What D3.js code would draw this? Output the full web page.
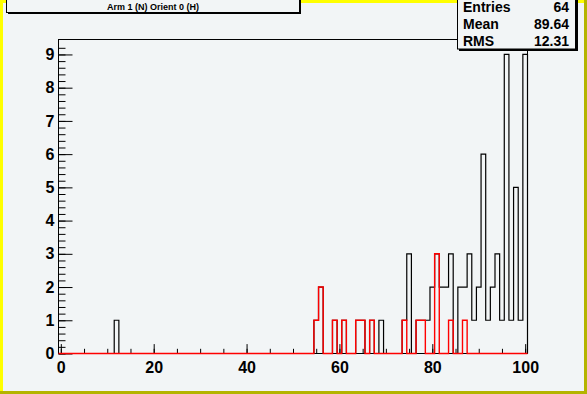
<!DOCTYPE html>
<html>
<head>
<meta charset="utf-8">
<script src="https://cdn.jsdelivr.net/npm/d3@7"></script>
<style>
  body { margin: 0; background: #f2f5f6; }
  svg text { font-family: "Liberation Sans", Arial, sans-serif; font-weight: bold; }
</style>
</head>
<body>
<svg id="chart"></svg>
<script>
// histogram contents, one bin per integer, range -0.5 .. 100.5
const blackBins   = [12, 55, 56, 59, 61, 64, 65, 67, 69, 74, 75, 77, 78, 79, 80, 81, 82, 83, 84, 86, 87, 88, 89, 90, 91, 92, 93, 94, 95, 96, 97, 98, 99, 100]
const blackCounts = [ 1,  1,  2,  1,  1,  1,  1,  1,  1,  1,  3,  1,  1,  1,  2,  3,  2,  2,  3,  2,  2,  3,  1,  2,  6,  1,  2,  3,  1,  9,  1,  5,  1,  9]
const redBins     = [55, 56, 59, 61, 64, 65, 67, 74, 77, 78, 81, 84, 87]
const redCounts   = [ 1,  2,  1,  1,  1,  1,  1,  1,  1,  1,  3,  1,  1]

const xMajor = [0, 20, 40, 60, 80, 100]
const yMajor = [0, 1, 2, 3, 4, 5, 6, 7, 8, 9]
const titleText = "Arm 1 (N) Orient 0 (H)"
const statLabels = ["Entries", "Mean", "RMS"]
const statValues = ["64", "89.64", "12.31"]

const W = 587, H = 394
const nBins = 101

function fill(bins, counts){
    const arr = new Array(nBins).fill(0)
    bins.forEach((b, i) => { arr[b] = counts[i] })
    return arr
}
const black = fill(blackBins, blackCounts)
const red = fill(redBins, redCounts)

const svg = d3.select("svg#chart")
              .attr("width", W)
              .attr("height", H)

//canvas background + border
svg.append("rect")
   .attr("x", 0).attr("y", 0)
   .attr("width", W).attr("height", H)
   .attr("fill", "#f2f5f6")
svg.append("path")
   .attr("d", `M0,0H${W}V3H3V${H}H0Z`)
   .attr("fill", "#ffff00")
svg.append("path")
   .attr("d", `M${W},0V${H}H0V${H-3}H${W-3}V0Z`)
   .attr("fill", "#b4b400")

//frame
const fLeft = 58.5, fRight = 527.5, fTop = 39.5, fBottom = 353.5

const x = d3.scaleLinear().domain([-0.5, 100.5]).range([fLeft, fRight])
const y = d3.scaleLinear().domain([0, 9.45]).range([fBottom, fTop])

svg.append("rect")
   .attr("x", fLeft).attr("y", fTop)
   .attr("width", fRight - fLeft).attr("height", fBottom - fTop)
   .attr("fill", "none")
   .attr("stroke", "black")
   .attr("stroke-width", 1)

//axes, ticks pointing into the frame
const xMinor = d3.range(0, 101, 5)
svg.append("g")
   .attr("transform", `translate(0,${fBottom})`)
   .call(d3.axisBottom(x).tickValues(xMinor).tickSize(-4.7).tickFormat(""))
   .call(g => g.select(".domain").remove())
svg.append("g")
   .attr("transform", `translate(0,${fBottom})`)
   .call(d3.axisBottom(x).tickValues(xMajor).tickSize(-9.4).tickPadding(8).tickFormat(d3.format("d")))
   .call(g => g.select(".domain").remove())
   .call(g => g.selectAll("text").attr("font-size", 16).attr("fill", "black")
              .attr("font-family", "Liberation Sans, Arial, sans-serif"))

const yMinor = d3.range(0, 47).map(i => i * 0.2)
svg.append("g")
   .attr("transform", `translate(${fLeft},0)`)
   .call(d3.axisLeft(y).tickValues(yMinor).tickSize(-7).tickFormat(""))
   .call(g => g.select(".domain").remove())
svg.append("g")
   .attr("transform", `translate(${fLeft},0)`)
   .call(d3.axisLeft(y).tickValues(yMajor).tickSize(-14).tickPadding(4).tickFormat(d3.format("d")))
   .call(g => g.select(".domain").remove())
   .call(g => g.selectAll("text").attr("font-size", 16).attr("fill", "black")
              .attr("font-family", "Liberation Sans, Arial, sans-serif"))

//histogram outline
function stepPoints(vals){
    const pts = [[x(-0.5), y(0)]]
    vals.forEach((v, i) => {
        pts.push([x(i - 0.5), y(v)])
        pts.push([x(i + 0.5), y(v)])
    })
    pts.push([x(100.5), y(0)])
    return pts
}
const line = d3.line()

svg.append("path")
   .attr("d", line(stepPoints(black)))
   .attr("fill", "none")
   .attr("stroke", "black")
   .attr("stroke-width", 1.2)

svg.append("path")
   .attr("d", line(stepPoints(red)))
   .attr("fill", "none")
   .attr("stroke", "#ff0000")
   .attr("stroke-width", 1.4)

//title box
svg.append("rect")
   .attr("x", 8).attr("y", -10)
   .attr("width", 293).attr("height", 24)
   .attr("fill", "black")
svg.append("rect")
   .attr("x", 6.5).attr("y", -10)
   .attr("width", 293).attr("height", 22.5)
   .attr("fill", "#f2f5f6")
   .attr("stroke", "black")
   .attr("stroke-width", 1)
svg.append("text")
   .attr("x", 153).attr("y", 9.5)
   .attr("text-anchor", "middle")
   .attr("font-size", 9)
   .text(titleText)

//stats box
svg.append("rect")
   .attr("x", 459).attr("y", -10)
   .attr("width", 119).attr("height", 61)
   .attr("fill", "black")
svg.append("rect")
   .attr("x", 457.5).attr("y", -10)
   .attr("width", 118).attr("height", 59)
   .attr("fill", "#f2f5f6")
   .attr("stroke", "black")
   .attr("stroke-width", 1)
statLabels.forEach((s, i) => {
    svg.append("text")
       .attr("x", 463).attr("y", 11.5 + i * 17)
       .attr("font-size", 14)
       .text(s)
    svg.append("text")
       .attr("x", 569).attr("y", 11.5 + i * 17)
       .attr("text-anchor", "end")
       .attr("font-size", 14)
       .text(statValues[i])
})
</script>
</body>
</html>
